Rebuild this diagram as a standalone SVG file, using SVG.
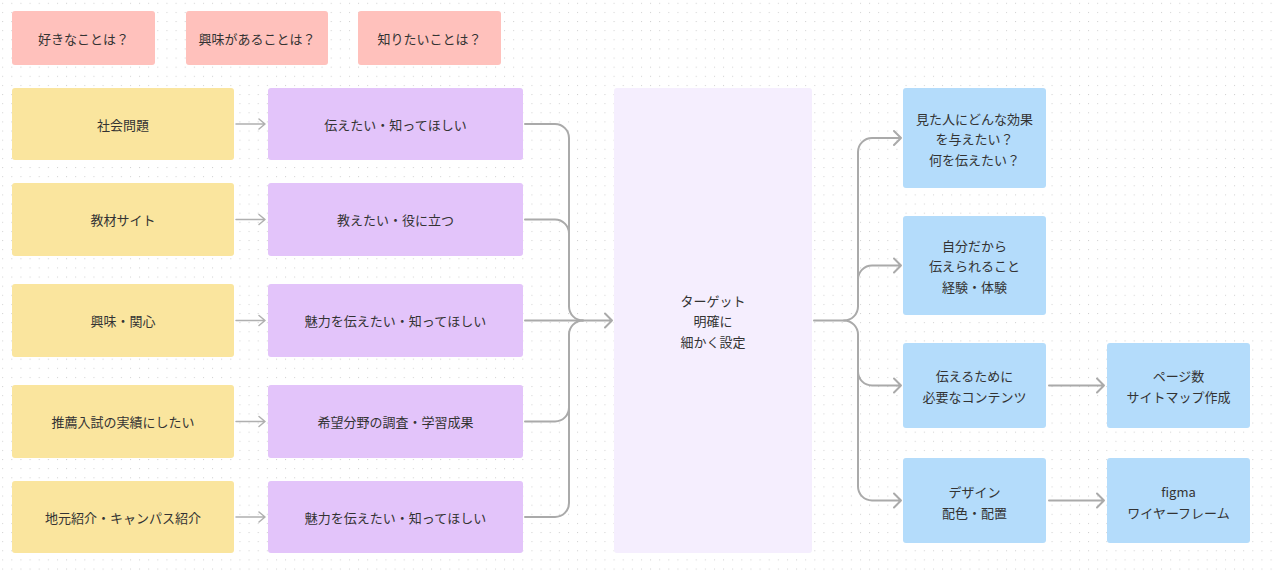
<svg xmlns="http://www.w3.org/2000/svg" width="1274" height="577" viewBox="0 0 1274 577">
<style>
text{font-family:"Noto Sans CJK JP","Noto Sans",sans-serif;font-size:13px;fill:#333;text-anchor:middle;dominant-baseline:central}
.pink{fill:#ffc1bc}
.yel{fill:#fae59e}
.pur{fill:#e3c4fa}
.cen{fill:#f5eefe}
.blue{fill:#b4dcfb}
.c{fill:none;stroke:#aaaaaa;stroke-width:2;stroke-linecap:round;stroke-linejoin:round}
.s{fill:none;stroke:#b0b0b0;stroke-width:1.5;stroke-linecap:round;stroke-linejoin:round}
</style>
<defs>
<pattern id="dots" x="2.2" y="2.8" width="9.125" height="9.125" patternUnits="userSpaceOnUse">
<rect x="0" y="0" width="1" height="1" fill="#cfcfcf"/>
</pattern>
</defs>
<rect width="1274" height="577" fill="#ffffff"/>
<rect width="1274" height="577" fill="url(#dots)"/>

<g id="connectors">
<path class="s" d="M236,124 H265 M259,119 L265,124 L259,129"/>
<path class="s" d="M236,219.5 H265 M259,214.5 L265,219.5 L259,224.5"/>
<path class="s" d="M236,320.5 H265 M259,315.5 L265,320.5 L259,325.5"/>
<path class="s" d="M236,421.5 H265 M259,416.5 L265,421.5 L259,426.5"/>
<path class="s" d="M236,517 H265 M259,512 L265,517 L259,522"/>

<path class="c" d="M525,124 H555 A14,14 0 0 1 569,138 V306.5 A14,14 0 0 0 583,320.5"/>
<path class="c" d="M525,219.5 H555 A14,14 0 0 1 569,233.5"/>
<path class="c" d="M525,421.5 H555 A14,14 0 0 0 569,407.5"/>
<path class="c" d="M525,517 H555 A14,14 0 0 0 569,503 V334.5 A14,14 0 0 1 583,320.5"/>
<path class="c" d="M525,320.5 H612 M605,313.5 L612,320.5 L605,327.5"/>

<path class="c" d="M814,320.5 H844 A14,14 0 0 0 858,306.5 V152 A14,14 0 0 1 872,138 H901 M894,131 L901,138 L894,145"/>
<path class="c" d="M858,279.5 A14,14 0 0 1 872,265.5 H901 M894,258.5 L901,265.5 L894,272.5"/>
<path class="c" d="M844,320.5 A14,14 0 0 1 858,334.5 V371.5 A14,14 0 0 0 872,385.5 H901 M894,378.5 L901,385.5 L894,392.5"/>
<path class="c" d="M858,371.5 V486.5 A14,14 0 0 0 872,500.5 H901 M894,493.5 L901,500.5 L894,507.5"/>
<path class="c" d="M1049,385.5 H1104 M1097,378.5 L1104,385.5 L1097,392.5"/>
<path class="c" d="M1049,500.5 H1104 M1097,493.5 L1104,500.5 L1097,507.5"/>
</g>

<g id="q1"><rect class="pink" x="12" y="11" width="143" height="54" rx="3"/><text x="83.5" y="38">好きなことは？</text></g>
<g id="q2"><rect class="pink" x="186" y="11" width="142" height="54" rx="3"/><text x="257" y="38">興味があることは？</text></g>
<g id="q3"><rect class="pink" x="358" y="11" width="143" height="54" rx="3"/><text x="429.5" y="38">知りたいことは？</text></g>

<g id="y1"><rect class="yel" x="12" y="88" width="222" height="72" rx="3"/><text x="123" y="124">社会問題</text></g>
<g id="y2"><rect class="yel" x="12" y="183" width="222" height="73" rx="3"/><text x="123" y="219.5">教材サイト</text></g>
<g id="y3"><rect class="yel" x="12" y="284" width="222" height="73" rx="3"/><text x="123" y="320.5">興味・関心</text></g>
<g id="y4"><rect class="yel" x="12" y="385" width="222" height="73" rx="3"/><text x="123" y="421.5">推薦入試の実績にしたい</text></g>
<g id="y5"><rect class="yel" x="12" y="481" width="222" height="72" rx="3"/><text x="123" y="517">地元紹介・キャンパス紹介</text></g>

<g id="p1"><rect class="pur" x="268" y="88" width="255" height="72" rx="3"/><text x="395.5" y="124">伝えたい・知ってほしい</text></g>
<g id="p2"><rect class="pur" x="268" y="183" width="255" height="73" rx="3"/><text x="395.5" y="219.5">教えたい・役に立つ</text></g>
<g id="p3"><rect class="pur" x="268" y="284" width="255" height="73" rx="3"/><text x="395.5" y="320.5">魅力を伝えたい・知ってほしい</text></g>
<g id="p4"><rect class="pur" x="268" y="385" width="255" height="73" rx="3"/><text x="395.5" y="421.5">希望分野の調査・学習成果</text></g>
<g id="p5"><rect class="pur" x="268" y="481" width="255" height="72" rx="3"/><text x="395.5" y="517">魅力を伝えたい・知ってほしい</text></g>

<g id="target"><rect class="cen" x="614" y="88" width="198" height="465" rx="3"/>
<text x="713" y="300">ターゲット</text><text x="713" y="320.5">明確に</text><text x="713" y="341">細かく設定</text></g>

<g id="b1"><rect class="blue" x="903" y="88" width="143" height="100" rx="3"/>
<text x="974.5" y="118">見た人にどんな効果</text><text x="974.5" y="138.5">を与えたい？</text><text x="974.5" y="159">何を伝えたい？</text></g>
<g id="b2"><rect class="blue" x="903" y="216" width="143" height="99" rx="3"/>
<text x="974.5" y="245">自分だから</text><text x="974.5" y="265.5">伝えられること</text><text x="974.5" y="286">経験・体験</text></g>
<g id="b3"><rect class="blue" x="903" y="343" width="143" height="85" rx="3"/>
<text x="974.5" y="375.5">伝えるために</text><text x="974.5" y="396">必要なコンテンツ</text></g>
<g id="b4"><rect class="blue" x="903" y="458" width="143" height="85" rx="3"/>
<text x="974.5" y="491.5">デザイン</text><text x="974.5" y="512">配色・配置</text></g>
<g id="b5"><rect class="blue" x="1107" y="343" width="143" height="85" rx="3"/>
<text x="1178.5" y="375.5">ページ数</text><text x="1178.5" y="396">サイトマップ作成</text></g>
<g id="b6"><rect class="blue" x="1107" y="458" width="143" height="85" rx="3"/>
<text x="1178.5" y="491.5">figma</text><text x="1178.5" y="512">ワイヤーフレーム</text></g>
</svg>
